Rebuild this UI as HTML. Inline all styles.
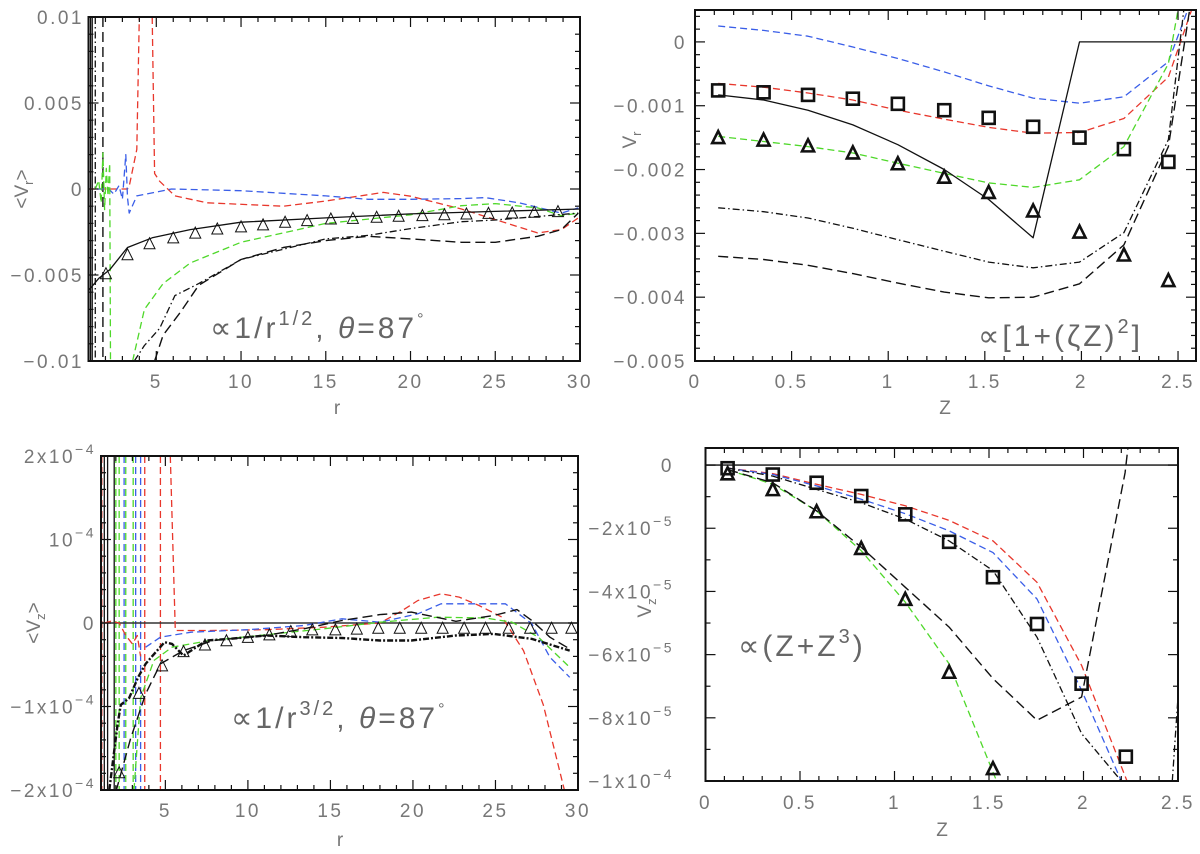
<!DOCTYPE html>
<html><head><meta charset="utf-8">
<style>
html,body{margin:0;padding:0;background:#fff;}
svg{display:block;font-family:"Liberation Sans",sans-serif;}
.tl{font-size:19px;fill:#777;letter-spacing:2.5px;}
.ann{font-size:30px;fill:#666;letter-spacing:3px;}
.al{font-size:19px;fill:#777;}
</style></head>
<body>
<svg id="fig" width="1200" height="854" viewBox="0 0 1200 854" xmlns="http://www.w3.org/2000/svg"></svg>
<script>
// ---------- Top-left panel: <Vr> vs r (units 1e-3) ----------
const tlSolidR=[1,1.6,2.25,3.3,4.76,7,10,15,20,25,30];
const tlSolidV=[-5.9,-5.2,-4.7,-3.4,-2.84,-2.36,-1.93,-1.68,-1.45,-1.3,-1.16];
const tlTriR=[2.03,3.3,4.6,6.0,7.3,8.6,10,11.3,12.6,13.9,15.3,16.6,18,19.3,20.7,22,23.3,24.6,26,27.3,28.7];
const tlTriV=[-4.96,-3.86,-3.22,-2.88,-2.6,-2.36,-2.24,-2.12,-1.97,-1.87,-1.78,-1.74,-1.68,-1.62,-1.58,-1.53,-1.49,-1.45,-1.43,-1.39,-1.35];
const tlGreenR=[3.6,4.3,5.4,7,10,15,20,23,25,27.5,28.9,29.9];
const tlGreenV=[-10,-7,-5.5,-4.3,-3.1,-2.0,-1.5,-0.97,-0.85,-1.1,-1.55,-1.4];
const tlGreenNoiseR=[1.4,1.6,1.75,1.85,1.95,2.05,2.15,2.25,2.3];
const tlGreenNoiseV=[0,0.5,-0.8,2.1,-1.2,1.2,-0.4,1.5,-10];
const tlBlueR=[1.5,2.2,2.5,2.8,3.0,3.2,3.3,3.4,3.85,5.2,5.9,10,15,17.5,20,23,24.4,26.4,28.9,29.9];
const tlBlueV=[0,0,-0.3,0.2,-0.6,2.0,-0.5,-1.4,-0.4,-0.14,0,-0.1,-0.4,-0.6,-0.6,-0.56,-0.5,-0.8,-1.4,-1.1];
const tlRedAR=[1,3.3,3.4,3.85,4.0];
const tlRedAV=[0,0,0.15,2.3,10];
const tlRedBR=[4.76,4.9,5.2,6.1,8,12.5,15,17.5,18.4,20,23,25,27.5,28.9,29.9];
const tlRedBV=[10,0.9,0.45,-0.4,-0.8,-1.0,-0.7,-0.33,-0.2,-0.42,-1.16,-1.78,-2.55,-2.36,-1.68];
const tlDashR=[4.9,5.4,6.4,7.5,10,12.5,15,17.5,20,23,25,27.5,28.9,29.9];
const tlDashV=[-10,-8.5,-7.2,-5.6,-4.1,-3.4,-3.0,-2.75,-2.9,-3.1,-3.1,-2.75,-2.36,-1.4];
const tlDotR=[3.7,4.3,5.2,6.1,7.5,10,15,17.5,20,23,25,27.5,29.9];
const tlDotV=[-10,-9.1,-8.1,-6.2,-5.5,-4.1,-2.9,-2.7,-2.3,-1.9,-1.8,-1.6,-1.4];
const tlSpikeSolid=[1.12,1.22];
const tlSpikeDot=[1.4];
const tlSpikeDash=[1.85];
const tlXTicks=[5,10,15,20,25,30];
const tlXLabels=["5","10","15","20","25","30"];
const tlYTicks=[-10,-5,0,5,10];
const tlYLabels=["\u22120.01","\u22120.005","0","0.005","0.01"];

// ---------- Top-right panel: Vr vs Z (units 1e-3) ----------
const trZ=[0.12,0.355,0.585,0.817,1.05,1.29,1.52,1.75,1.99,2.22,2.45];
const trSq=[-0.76,-0.79,-0.83,-0.89,-0.97,-1.07,-1.19,-1.33,-1.5,-1.68,-1.88];
const trTri=[-1.51,-1.55,-1.64,-1.75,-1.92,-2.13,-2.37,-2.66,-2.99,-3.35,-3.75];
const trBlueZ=[0.12,0.355,0.585,0.817,1.05,1.29,1.52,1.75,1.99,2.22,2.45,2.55];
const trBlue=[0.25,0.18,0.09,-0.08,-0.26,-0.47,-0.69,-0.88,-0.96,-0.86,-0.31,0.5];
const trRedZ=[0.12,0.355,0.585,0.817,1.05,1.29,1.52,1.75,1.99,2.22,2.45,2.57];
const trRed=[-0.65,-0.71,-0.8,-0.91,-1.07,-1.21,-1.34,-1.43,-1.42,-1.2,-0.55,0.5];
const trGreenZ=[0.12,0.355,0.585,0.817,1.05,1.29,1.52,1.75,1.99,2.22,2.45,2.5];
const trGreen=[-1.48,-1.56,-1.64,-1.74,-1.9,-2.06,-2.21,-2.28,-2.16,-1.64,-0.34,0.5];
const trSolidZ=[0.12,0.355,0.585,0.817,1.05,1.29,1.52,1.75,1.99,2.6];
const trSolid=[-0.83,-0.91,-1.07,-1.3,-1.61,-2.0,-2.47,-3.07,0,0];
const trDotZ=[0.12,0.355,0.585,0.817,1.05,1.29,1.52,1.75,1.99,2.22,2.45,2.53];
const trDot=[-2.6,-2.66,-2.76,-2.92,-3.1,-3.28,-3.45,-3.54,-3.45,-2.99,-1.53,0.5];
const trDashZ=[0.12,0.355,0.585,0.817,1.05,1.29,1.52,1.75,1.99,2.22,2.45,2.56];
const trDash=[-3.36,-3.41,-3.5,-3.63,-3.78,-3.92,-4.01,-4.0,-3.79,-3.18,-1.64,0.5];
const trXTicks=[0,0.5,1,1.5,2,2.5];
const trXLabels=["0","0.5","1","1.5","2","2.5"];
const trYTicks=[0,-1,-2,-3,-4,-5];
const trYLabels=["0","\u22120.001","\u22120.002","\u22120.003","\u22120.004","\u22120.005"];

// ---------- Bottom-left panel: <Vz> vs r (units 1e-4) ----------
const blTriR=[2.2,3.4,4.8,6.1,7.4,8.7,10,11.3,12.6,13.9,15.3,16.6,17.9,19.2,20.5,21.8,23.1,24.4,25.8,27.1,28.4,29.6];
const blTriV=[-1.8,-0.85,-0.52,-0.35,-0.27,-0.22,-0.18,-0.15,-0.11,-0.09,-0.09,-0.08,-0.07,-0.07,-0.07,-0.07,-0.07,-0.07,-0.07,-0.07,-0.07,-0.07];
const blThickR=[1.6,2.1,2.3,2.8,3.35,3.8,4.15,4.5,4.95,5.4,6.1,6.56,7.5,8.85,11.1,13.4,15.7,18,19.9,22.6,24.9,27.2,29.5];
const blThickV=[-2.0,-1.22,-0.98,-0.9,-0.65,-0.49,-0.41,-0.33,-0.23,-0.25,-0.39,-0.33,-0.21,-0.19,-0.15,-0.17,-0.18,-0.21,-0.21,-0.15,-0.13,-0.19,-0.33];
const blDashR=[2,2.9,3.8,4.7,6.1,7.9,11.1,13.4,15.7,18,19.9,22.6,24.9,26.3,27.2,28.3,29.5];
const blDashV=[-2.02,-1.38,-0.85,-0.49,-0.33,-0.21,-0.15,-0.07,0.03,0.1,0.13,0.02,0.09,0.16,0.03,-0.17,-0.31];
const blGreenR=[3.1,3.5,4.3,5.4,7.7,11.1,14.6,18,21.5,24.4,26,27.6,29.5];
const blGreenV=[-2.0,-0.9,-0.45,-0.29,-0.21,-0.14,-0.07,0.01,0.07,0.06,0.01,-0.17,-0.53];
const blBlueR=[3.8,4.7,6.56,10,13.4,15.7,18,20.3,21.7,23.8,25.6,27.2,28.3,29.5];
const blBlueV=[-0.29,-0.17,-0.11,-0.08,-0.03,0.05,0.01,0.11,0.23,0.23,0.23,-0.01,-0.41,-0.65];
const blRedR=[5.3,5.6,7.7,11.1,14.6,18,19.2,20.3,21.7,22.8,24,25.4,26.7,27.9,29.2];
const blRedV=[2,-0.09,-0.09,-0.08,-0.05,0,0.13,0.27,0.35,0.31,0.21,0.07,-0.33,-0.98,-2.02];
const blRedNearR=[1.3,1.7,2.2,2.6,3.0,3.3,3.5];
const blRedNearV=[0,0.02,0,-0.15,-0.25,-0.15,-0.4];
const blSpikeBlack=[1.3,1.5,1.9];
const blSpikeGreen=[2.0,2.2,2.6,3.05];
const blSpikeBlue=[2.5,3.2,3.5];
const blSpikeRed=[1.15,3.75,4.7];
const blXTicks=[5,10,15,20,25,30];
const blXLabels=["5","10","15","20","25","30"];
const blYTicks=[2,1,0,-1,-2];
const blYMant=["2x10","10","0","\u22121x10","\u22122x10"];
const blYExp=["\u22124","\u22124","","\u22124","\u22124"];

// ---------- Bottom-right panel: Vz vs Z (units 1e-5) ----------
const brZ=[0.117,0.356,0.588,0.824,1.057,1.289,1.521,1.754,1.99,2.224];
const brSq=[-0.1,-0.3,-0.56,-0.98,-1.56,-2.43,-3.55,-5.03,-6.92,-9.23];
const brTriZ=[0.117,0.356,0.588,0.824,1.057,1.289,1.521];
const brTri=[-0.3,-0.8,-1.5,-2.66,-4.27,-6.58,-9.63];
const brRedZ=[0.12,0.356,0.588,0.824,1.057,1.289,1.521,1.754,1.99,2.23];
const brRed=[-0.1,-0.27,-0.61,-0.93,-1.29,-1.75,-2.4,-3.71,-6.34,-10];
const brBlueZ=[0.12,0.356,0.588,0.824,1.057,1.289,1.521,1.754,1.99,2.2];
const brBlue=[-0.1,-0.3,-0.66,-1.08,-1.54,-2.08,-2.77,-4.24,-7.13,-10];
const brDotZ=[0.12,0.356,0.588,0.824,1.057,1.289,1.521,1.754,1.99,2.2];
const brDot=[-0.1,-0.35,-0.77,-1.19,-1.71,-2.4,-3.34,-5.45,-8.5,-10];
const brDot2Z=[2.47,2.5];
const brDot2=[-10,-7.34];
const brDashZ=[0.12,0.356,0.588,0.824,1.057,1.289,1.521,1.754,1.99,2.22,2.235];
const brDash=[-0.15,-0.56,-1.45,-2.6,-3.87,-5.13,-6.76,-8.08,-7.34,-0.24,0.54];
const brGreenZ=[0.12,0.356,0.588,0.824,1.057,1.289,1.54];
const brGreen=[-0.15,-0.61,-1.45,-2.71,-4.34,-6.29,-10];
const brXTicks=[0,0.5,1,1.5,2,2.5];
const brXLabels=["0","0.5","1","1.5","2","2.5"];
const brYTicks=[0,-2,-4,-6,-8,-10];
const brYMant=["0","\u22122x10","\u22124x10","\u22126x10","\u22128x10","\u22121x10"];
const brYExp=["","\u22125","\u22125","\u22125","\u22125","\u22124"];

const NS="http://www.w3.org/2000/svg";
const svg=document.getElementById('fig');
function mk(tag,attrs,parent){
  const e=document.createElementNS(NS,tag);
  for(const k in attrs) e.setAttribute(k,attrs[k]);
  (parent||svg).appendChild(e);
  return e;
}
function scales(P){
  return {
    sx:v=>P.x0+(v-P.xmin)/(P.xmax-P.xmin)*(P.x1-P.x0),
    sy:v=>P.y1-(v-P.ymin)/(P.ymax-P.ymin)*(P.y1-P.y0)
  };
}
const STY={
  red:{stroke:'#e8372c',dash:'7,4',w:1.3},
  blue:{stroke:'#3a5ee8',dash:'7,4',w:1.3},
  green:{stroke:'#4fd82a',dash:'7,4',w:1.3},
  dash:{stroke:'#111',dash:'10,5',w:1.4},
  dot:{stroke:'#111',dash:'7,3,1.5,3',w:1.3},
  solid:{stroke:'#111',dash:'',w:1.3},
  thick:{stroke:'#111',dash:'6,2,2,2',w:2.4}
};
function line(g,S,xs,ys,st,name){
  const p=xs.map((x,i)=>S.sx(x).toFixed(1)+','+S.sy(ys[i]).toFixed(1)).join(' ');
  const el=mk('polyline',{points:p,fill:'none',stroke:STY[st].stroke,'stroke-width':STY[st].w,'stroke-dasharray':STY[st].dash,'stroke-linejoin':'round'},g);
  
  
}
function spikes(g,S,P,xs,st,name){
  xs.forEach(x=>{
    const el=mk('line',{x1:S.sx(x),x2:S.sx(x),y1:P.y0,y2:P.y1,stroke:STY[st].stroke,'stroke-width':STY[st].w,'stroke-dasharray':STY[st].dash},g);
    
    
  });
}
function tri(g,S,xs,ys,s,w,name){
  xs.forEach((x,i)=>{
    const cx=S.sx(x),cy=S.sy(ys[i]);
    const el=mk('polygon',{points:`${cx},${cy-s*0.6} ${cx-s/2},${cy+s*0.4} ${cx+s/2},${cy+s*0.4}`,fill:'none',stroke:'#111','stroke-width':w},g);
    
    
  });
}
function sq(g,S,xs,ys,s,w,name){
  xs.forEach((x,i)=>{
    const cx=S.sx(x),cy=S.sy(ys[i]);
    const el=mk('rect',{x:cx-s/2,y:cy-s/2,width:s,height:s,fill:'none',stroke:'#111','stroke-width':w},g);
    
    
  });
}
function frame(P,name,minX,minY){
  const S=scales(P);
  const g=mk('g',{});
  
  
  const id='clip-'+name;
  const cp=mk('clipPath',{id:id},g);
  mk('rect',{x:P.x0,y:P.y0,width:P.x1-P.x0,height:P.y1-P.y0},cp);
  const pg=mk('g',{'clip-path':`url(#${id})`},g);
  
  
  const tg=mk('g',{stroke:'#111','stroke-width':1.2},g);
  
  
  const eps=1e-9;
  for(let v=Math.ceil(P.xmin/minX.step-eps)*minX.step; v<=P.xmax+eps; v+=minX.step){
    const k=Math.abs(v/minX.major-Math.round(v/minX.major))<1e-6;
    const L=k?10:5, x=S.sx(v);
    mk('line',{x1:x,x2:x,y1:P.y1,y2:P.y1-L},tg);
    mk('line',{x1:x,x2:x,y1:P.y0,y2:P.y0+L},tg);
  }
  for(let v=Math.ceil(P.ymin/minY.step-eps)*minY.step; v<=P.ymax+eps; v+=minY.step){
    const k=Math.abs(v/minY.major-Math.round(v/minY.major))<1e-6;
    const L=k?10:5, y=S.sy(v);
    mk('line',{x1:P.x0,x2:P.x0+L,y1:y,y2:y},tg);
    mk('line',{x1:P.x1,x2:P.x1-L,y1:y,y2:y},tg);
  }
  const fr=mk('rect',{x:P.x0,y:P.y0,width:P.x1-P.x0,height:P.y1-P.y0,fill:'none',stroke:'#111','stroke-width':2},g);
  
  
  return {S,g,pg};
}
function xlabels(g,S,ticks,labels,y){
  ticks.forEach((t,i)=>{
    const el=mk('text',{x:S.sx(t),y:y,'text-anchor':'middle',class:'tl'},g);
    el.textContent=labels[i];
    
    
  });
}
function ylabels(g,S,ticks,labels,x){
  ticks.forEach((t,i)=>{
    const el=mk('text',{x:x,y:S.sy(t)+7,'text-anchor':'end',class:'tl'},g);
    el.textContent=labels[i];
    
    
  });
}
function yexplabels(g,S,ticks,mant,exps,x){
  ticks.forEach((t,i)=>{
    const el=mk('text',{x:x,y:S.sy(t)+7,'text-anchor':'end',class:'tl'},g);
    
    
    const a=mk('tspan',{},el); a.textContent=mant[i];
    if(exps[i]){const b=mk('tspan',{dy:-9,'font-size':'14px'},el); b.textContent=exps[i];}
  });
}
function txt(g,x,y,s,cls,name,extra){
  const el=mk('text',Object.assign({x:x,y:y,class:cls},extra||{}),g);
  el.textContent=s;
  
  
  return el;
}

// ===== TL =====
(function(){
  const P={x0:88.5,x1:580,y0:17,y1:361,xmin:1,xmax:30,ymin:-10,ymax:10};
  const {S,g,pg}=frame(P,'panel-vr-r',{step:1,major:5},{step:1,major:5});
  spikes(pg,S,P,tlSpikeSolid,'solid','wall-spike-solid');
  spikes(pg,S,P,tlSpikeDot,'dot','wall-spike-dashdot');
  spikes(pg,S,P,tlSpikeDash,'dash','wall-spike-dashed');
  line(pg,S,tlRedAR,tlRedAV,'red','red-dashed-inner');
  line(pg,S,tlRedBR,tlRedBV,'red','red-dashed-curve');
  line(pg,S,tlBlueR,tlBlueV,'blue','blue-dashed-curve');
  line(pg,S,tlGreenNoiseR,tlGreenNoiseV,'green','green-dashed-inner');
  line(pg,S,tlGreenR,tlGreenV,'green','green-dashed-curve');
  line(pg,S,tlDashR,tlDashV,'dash','black-dashed-curve');
  line(pg,S,tlDotR,tlDotV,'dot','black-dashdot-curve');
  line(pg,S,tlSolidR,tlSolidV,'solid','black-solid-fit');
  tri(pg,S,tlTriR,tlTriV,11,1,'triangle-marker');
  xlabels(g,S,tlXTicks,tlXLabels,388);
  ylabels(g,S,tlYTicks,tlYLabels,84);
  txt(g,337,414,'r','al','x-axis-title',{'text-anchor':'middle'});
  const yt=mk('text',{x:0,y:0,class:'al','text-anchor':'middle',transform:'translate(28,189) rotate(-90)'},g);
  
  
  mk('tspan',{},yt).textContent='<V';
  mk('tspan',{dy:5,'font-size':'13px'},yt).textContent='r';
  mk('tspan',{dy:-5},yt).textContent='>';
  const an=mk('text',{x:210,y:338,class:'ann'},g);
  
  
  mk('tspan',{},an).textContent='\u221D1/r';
  mk('tspan',{dy:-13,'font-size':'20px'},an).textContent='1/2';
  mk('tspan',{dy:13},an).textContent=', ';
  mk('tspan',{'font-style':'italic'},an).textContent='\u03B8';
  mk('tspan',{},an).textContent='=87';
  mk('tspan',{dy:-14,'font-size':'16px'},an).textContent='\u00B0';
})();

// ===== TR =====
(function(){
  const P={x0:695,x1:1196,y0:10,y1:361,xmin:0,xmax:2.593,ymin:-5,ymax:0.5};
  const {S,g,pg}=frame(P,'panel-vr-z',{step:0.1,major:0.5},{step:0.2,major:1});
  line(pg,S,trBlueZ,trBlue,'blue','blue-dashed-curve');
  line(pg,S,trRedZ,trRed,'red','red-dashed-curve');
  line(pg,S,trGreenZ,trGreen,'green','green-dashed-curve');
  line(pg,S,trDotZ,trDot,'dot','black-dashdot-curve');
  line(pg,S,trDashZ,trDash,'dash','black-dashed-curve');
  line(pg,S,trSolidZ,trSolid,'solid','black-solid-curve');
  sq(pg,S,trZ,trSq,12,2.6,'square-marker');
  tri(pg,S,trZ,trTri,12,2.6,'triangle-marker');
  xlabels(g,S,trXTicks,trXLabels,388);
  ylabels(g,S,trYTicks,trYLabels,687);
  txt(g,945,414,'Z','al','x-axis-title',{'text-anchor':'middle'});
  const yt=mk('text',{x:0,y:0,class:'al','text-anchor':'middle',transform:'translate(636,140) rotate(-90)'},g);
  
  
  mk('tspan',{},yt).textContent='V';
  mk('tspan',{dy:5,'font-size':'13px'},yt).textContent='r';
  const an=mk('text',{x:978,y:346,class:'ann'},g);
  
  
  mk('tspan',{},an).textContent='\u221D[1+(\u03B6Z)';
  mk('tspan',{dy:-13,'font-size':'20px'},an).textContent='2';
  mk('tspan',{dy:13},an).textContent=']';
})();

// ===== BL =====
(function(){
  const P={x0:101,x1:578,y0:456,y1:790,xmin:1.1,xmax:30,ymin:-2,ymax:2};
  const {S,g,pg}=frame(P,'panel-vz-r',{step:1,major:5},{step:0.2,major:1});
  spikes(pg,S,P,blSpikeRed,'red','wall-spike-red');
  spikes(pg,S,P,blSpikeBlue,'blue','wall-spike-blue');
  spikes(pg,S,P,blSpikeGreen,'green','wall-spike-green');
  spikes(pg,S,P,blSpikeBlack,'solid','wall-spike-black');
  const z=mk('line',{x1:P.x0,x2:P.x1,y1:S.sy(0),y2:S.sy(0),stroke:'#333','stroke-width':1.6},pg);
  
  
  line(pg,S,blRedNearR,blRedNearV,'red','red-dashed-inner');
  line(pg,S,blRedR,blRedV,'red','red-dashed-curve');
  line(pg,S,blBlueR,blBlueV,'blue','blue-dashed-curve');
  line(pg,S,blGreenR,blGreenV,'green','green-dashed-curve');
  line(pg,S,blDashR,blDashV,'dash','black-dashed-curve');
  line(pg,S,blThickR,blThickV,'thick','black-thick-curve');
  tri(pg,S,blTriR,blTriV,11,1,'triangle-marker');
  xlabels(g,S,blXTicks,blXLabels,817);
  yexplabels(g,S,blYTicks,blYMant,blYExp,96);
  txt(g,340,846,'r','al','x-axis-title',{'text-anchor':'middle'});
  const yt=mk('text',{x:0,y:0,class:'al','text-anchor':'middle',transform:'translate(40,623) rotate(-90)'},g);
  
  
  mk('tspan',{},yt).textContent='<V';
  mk('tspan',{dy:5,'font-size':'13px'},yt).textContent='z';
  mk('tspan',{dy:-5},yt).textContent='>';
  const an=mk('text',{x:231,y:728,class:'ann'},g);
  
  
  mk('tspan',{},an).textContent='\u221D1/r';
  mk('tspan',{dy:-13,'font-size':'20px'},an).textContent='3/2';
  mk('tspan',{dy:13},an).textContent=', ';
  mk('tspan',{'font-style':'italic'},an).textContent='\u03B8';
  mk('tspan',{},an).textContent='=87';
  mk('tspan',{dy:-14,'font-size':'16px'},an).textContent='\u00B0';
})();

// ===== BR =====
(function(){
  const P={x0:705.5,x1:1178,y0:448,y1:781,xmin:0,xmax:2.5,ymin:-10,ymax:0.54};
  const {S,g,pg}=frame(P,'panel-vz-z',{step:0.1,major:0.5},{step:1,major:2});
  const z=mk('line',{x1:P.x0,x2:P.x1,y1:S.sy(0),y2:S.sy(0),stroke:'#333','stroke-width':1.6},pg);
  
  
  line(pg,S,brRedZ,brRed,'red','red-dashed-curve');
  line(pg,S,brBlueZ,brBlue,'blue','blue-dashed-curve');
  line(pg,S,brGreenZ,brGreen,'green','green-dashed-curve');
  line(pg,S,brDotZ,brDot,'dot','black-dashdot-curve');
  line(pg,S,brDot2Z,brDot2,'dot','black-dashdot-edge');
  line(pg,S,brDashZ,brDash,'dash','black-dashed-curve');
  sq(pg,S,brZ,brSq,12,2.6,'square-marker');
  tri(pg,S,brTriZ,brTri,12,2.6,'triangle-marker');
  xlabels(g,S,brXTicks,brXLabels,809);
  yexplabels(g,S,brYTicks,brYMant,brYExp,674);
  txt(g,942,836,'Z','al','x-axis-title',{'text-anchor':'middle'});
  const yt=mk('text',{x:0,y:0,class:'al','text-anchor':'middle',transform:'translate(651,608) rotate(-90)'},g);
  
  
  mk('tspan',{},yt).textContent='V';
  mk('tspan',{dy:5,'font-size':'13px'},yt).textContent='z';
  const an=mk('text',{x:738,y:656,class:'ann'},g);
  
  
  mk('tspan',{},an).textContent='\u221D(Z+Z';
  mk('tspan',{dy:-13,'font-size':'20px'},an).textContent='3';
  mk('tspan',{dy:13},an).textContent=')';
})();
</script>
</body></html>
